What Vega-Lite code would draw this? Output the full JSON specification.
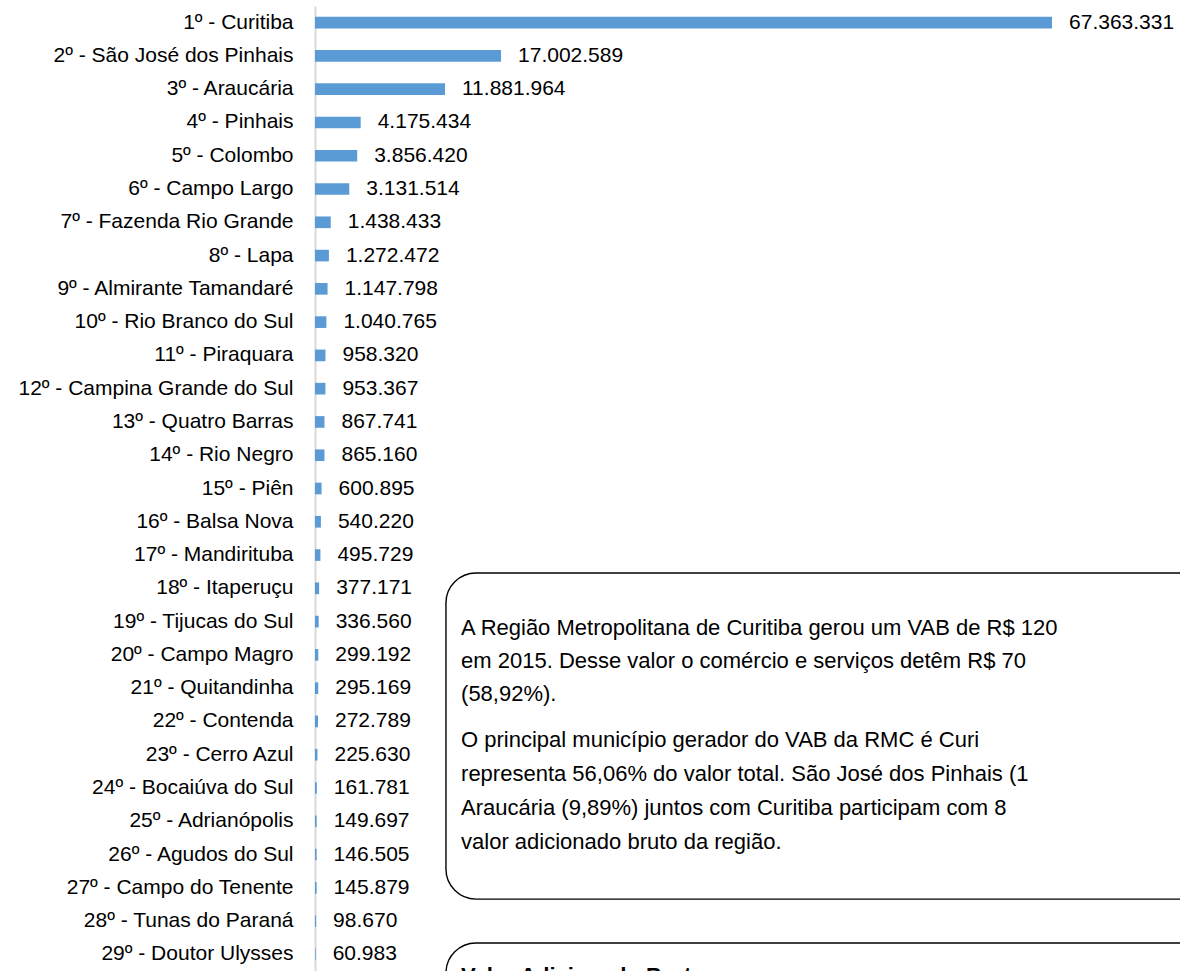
{
  "$schema": "https://vega.github.io/schema/vega-lite/v6.json",
  "autosize": "none",
  "width": 865,
  "height": 965,
  "padding": {"left": 315, "top": 6, "right": 0, "bottom": 0},
  "background": "white",
  "config": {
    "view": {"stroke": null},
    "font": "Liberation Sans",
    "locale": {"number": {"decimal": ",", "thousands": ".", "grouping": [3], "currency": ["R$ ", ""]}}
  },
  "datasets": {
    "vab": [
      {"municipio": "1º - Curitiba", "valor": 67363331},
      {"municipio": "2º - São José dos Pinhais", "valor": 17002589},
      {"municipio": "3º - Araucária", "valor": 11881964},
      {"municipio": "4º - Pinhais", "valor": 4175434},
      {"municipio": "5º - Colombo", "valor": 3856420},
      {"municipio": "6º - Campo Largo", "valor": 3131514},
      {"municipio": "7º - Fazenda Rio Grande", "valor": 1438433},
      {"municipio": "8º - Lapa", "valor": 1272472},
      {"municipio": "9º - Almirante Tamandaré", "valor": 1147798},
      {"municipio": "10º - Rio Branco do Sul", "valor": 1040765},
      {"municipio": "11º - Piraquara", "valor": 958320},
      {"municipio": "12º - Campina Grande do Sul", "valor": 953367},
      {"municipio": "13º - Quatro Barras", "valor": 867741},
      {"municipio": "14º - Rio Negro", "valor": 865160},
      {"municipio": "15º - Piên", "valor": 600895},
      {"municipio": "16º - Balsa Nova", "valor": 540220},
      {"municipio": "17º - Mandirituba", "valor": 495729},
      {"municipio": "18º - Itaperuçu", "valor": 377171},
      {"municipio": "19º - Tijucas do Sul", "valor": 336560},
      {"municipio": "20º - Campo Magro", "valor": 299192},
      {"municipio": "21º - Quitandinha", "valor": 295169},
      {"municipio": "22º - Contenda", "valor": 272789},
      {"municipio": "23º - Cerro Azul", "valor": 225630},
      {"municipio": "24º - Bocaiúva do Sul", "valor": 161781},
      {"municipio": "25º - Adrianópolis", "valor": 149697},
      {"municipio": "26º - Agudos do Sul", "valor": 146505},
      {"municipio": "27º - Campo do Tenente", "valor": 145879},
      {"municipio": "28º - Tunas do Paraná", "valor": 98670},
      {"municipio": "29º - Doutor Ulysses", "valor": 60983}
    ],
    "caixas": [
      {"x0": 11970000, "x1": 95000000, "r0": 17.04, "r1": 26.84},
      {"x0": 11970000, "x1": 95000000, "r0": 28.16, "r1": 31.5}
    ],
    "linhas": [
      {"x": 13350000, "r": 18.69, "texto": "A Região Metropolitana de Curitiba gerou um VAB de R$ 120"},
      {"x": 13350000, "r": 19.68, "texto": "em 2015. Desse valor o comércio e serviços detêm R$ 70"},
      {"x": 13350000, "r": 20.68, "texto": "(58,92%)."},
      {"x": 13350000, "r": 22.06, "texto": "O principal município gerador do VAB da RMC é Curi"},
      {"x": 13350000, "r": 23.08, "texto": "representa 56,06% do valor total. São José dos Pinhais (1"},
      {"x": 13350000, "r": 24.10, "texto": "Araucária (9,89%) juntos com Curitiba participam com 8"},
      {"x": 13350000, "r": 25.12, "texto": "valor adicionado bruto da região."}
    ],
    "titulo": [
      {"x": 13350000, "r": 29.15, "texto": "Valor Adicionado Bruto"}
    ]
  },
  "layer": [
    {
      "layer": [
        {
          "data": {"name": "vab"},
          "mark": {"type": "bar", "color": "#5B9BD5"},
          "encoding": {
            "y": {
              "field": "municipio", "type": "nominal", "sort": null,
              "scale": {"paddingInner": 0.65, "paddingOuter": 0.325},
              "axis": {
                "title": null, "ticks": false, "domainColor": "#D9D9D9", "domainWidth": 2,
                "labelFontSize": 21, "labelColor": "#000000", "labelPadding": 22,
                "labelFont": "Liberation Sans", "labelLimit": 400
              }
            },
            "x": {
              "field": "valor", "type": "quantitative",
              "scale": {"domain": [0, 79060000], "nice": false, "zero": true},
              "axis": null
            }
          }
        },
        {
          "data": {"name": "vab"},
          "mark": {"type": "text", "align": "left", "baseline": "middle", "dx": 17, "fontSize": 21, "color": "#000000"},
          "encoding": {
            "y": {"field": "municipio", "type": "nominal", "sort": null},
            "x": {"field": "valor", "type": "quantitative"},
            "text": {"field": "valor", "type": "quantitative", "format": ",d"}
          }
        }
      ]
    },
    {
      "layer": [
        {
          "data": {"name": "caixas"},
          "mark": {"type": "rect", "fill": "white", "stroke": "#000000", "strokeWidth": 1.4, "cornerRadius": 30, "clip": true},
          "encoding": {
            "x": {"field": "x0", "type": "quantitative"},
            "x2": {"field": "x1"},
            "y": {"field": "r0", "type": "quantitative", "scale": {"domain": [0, 29], "reverse": true, "nice": false, "zero": false}, "axis": null},
            "y2": {"field": "r1"}
          }
        },
        {
          "data": {"name": "linhas"},
          "mark": {"type": "text", "align": "left", "baseline": "middle", "fontSize": 22, "color": "#000000", "clip": true},
          "encoding": {
            "x": {"field": "x", "type": "quantitative"},
            "y": {"field": "r", "type": "quantitative"},
            "text": {"field": "texto"}
          }
        },
        {
          "data": {"name": "titulo"},
          "mark": {"type": "text", "align": "left", "baseline": "middle", "fontSize": 22, "fontWeight": "bold", "color": "#000000", "clip": true},
          "encoding": {
            "x": {"field": "x", "type": "quantitative"},
            "y": {"field": "r", "type": "quantitative"},
            "text": {"field": "texto"}
          }
        }
      ]
    }
  ],
  "resolve": {"scale": {"y": "independent"}, "axis": {"y": "independent"}}
}
